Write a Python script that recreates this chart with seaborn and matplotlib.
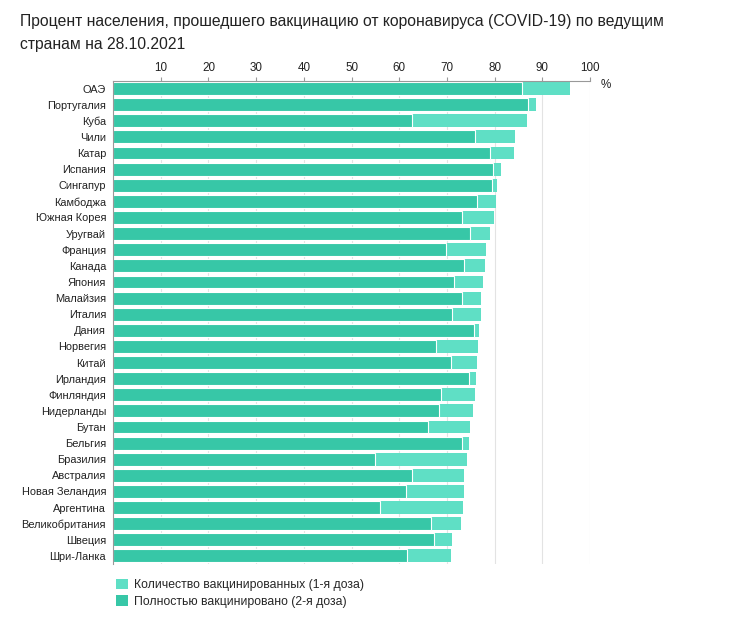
import matplotlib
matplotlib.use("Agg")
import matplotlib.pyplot as plt
import seaborn as sns
import pandas as pd
from matplotlib.patches import Patch

countries = ["ОАЭ", "Португалия", "Куба", "Чили", "Катар", "Испания", "Сингапур",
             "Камбоджа", "Южная Корея", "Уругвай", "Франция", "Канада", "Япония",
             "Малайзия", "Италия", "Дания", "Норвегия", "Китай", "Ирландия",
             "Финляндия", "Нидерланды", "Бутан", "Бельгия", "Бразилия", "Австралия",
             "Новая Зеландия", "Аргентина", "Великобритания", "Швеция", "Шри-Ланка"]
first_dose = [95.9, 88.7, 86.8, 84.2, 84.0, 81.3, 80.5, 80.3, 79.9, 79.0,
              78.1, 77.9, 77.5, 77.2, 77.2, 76.8, 76.6, 76.4, 76.0, 75.8,
              75.5, 74.8, 74.6, 74.2, 73.6, 73.6, 73.4, 72.9, 71.0, 70.8]
full_dose = [85.7, 87.1, 62.6, 75.8, 79.0, 79.7, 79.5, 76.3, 73.2, 74.9,
             69.9, 73.6, 71.5, 73.2, 71.1, 75.6, 67.8, 70.8, 74.7, 68.7,
             68.3, 66.0, 73.1, 55.0, 62.6, 61.4, 56.0, 66.7, 67.4, 61.6]
x_ticks = [10, 20, 30, 40, 50, 60, 70, 80, 90, 100]

title = ("Процент населения, прошедшего вакцинацию от коронавируса (COVID-19) по ведущим\n"
         "странам на 28.10.2021")
label_first = "Количество вакцинированных (1-я доза)"
label_full = "Полностью вакцинировано (2-я доза)"

LIGHT = "#5fdfc5"
DARK = "#37c7a7"

df = pd.DataFrame({"country": countries, "first": first_dose, "full": full_dose})

sns.set_theme(style="white")
plt.rcParams["font.family"] = ["Liberation Sans", "DejaVu Sans"]

fig = plt.figure(figsize=(7.5, 6.21), dpi=100)
ax = fig.add_axes([113 / 750, 1 - 564 / 621, (590 - 113) / 750, (564 - 80.5) / 621])

sns.barplot(data=df, x="first", y="country", color=LIGHT, saturation=1,
            width=0.8, ax=ax, orient="h", linewidth=0)
sns.barplot(data=df, x="full", y="country", color=DARK, saturation=1,
            width=0.8, ax=ax, orient="h", edgecolor="white", linewidth=0.8)

ax.set_xlim(0, 100)
ax.set_ylim(len(countries) - 0.5, -0.5)
ax.xaxis.tick_top()
ax.set_xticks(x_ticks)
ax.set_xticklabels([str(t) for t in x_ticks], fontsize=8.4, color="#222222")
ax.tick_params(axis="x", direction="out", length=3, width=0.8, color="#999999", pad=1.5)
ax.tick_params(axis="y", length=0, labelsize=7.9, labelcolor="#222222", pad=5)
ax.set_xlabel("")
ax.set_ylabel("")
ax.grid(axis="x", color="#e3e3e3", linewidth=0.8)
ax.set_axisbelow(True)
for s in ["right", "bottom"]:
    ax.spines[s].set_visible(False)
for s in ["top", "left"]:
    ax.spines[s].set_visible(True)
    ax.spines[s].set_color("#999999")
    ax.spines[s].set_linewidth(0.8)

ax.text(1.023, 0.99, "%", transform=ax.transAxes, fontsize=8.4, color="#222222",
        ha="left", va="center")

fig.text(20 / 750, 1 - 14 / 621, title, fontsize=11.3, color="#222222",
         ha="left", va="top", linespacing=1.7)

handles = [Patch(facecolor=LIGHT, edgecolor="none", label=label_first),
           Patch(facecolor=DARK, edgecolor="none", label=label_full)]
fig.legend(handles=handles, loc="upper left", bbox_to_anchor=(111 / 750, 1 - 574 / 621),
           frameon=False, fontsize=8.8, handlelength=0.95, handleheight=0.95,
           handletextpad=0.5, labelspacing=0.3, borderaxespad=0)

fig.savefig("out.png", dpi=100, facecolor="white")
